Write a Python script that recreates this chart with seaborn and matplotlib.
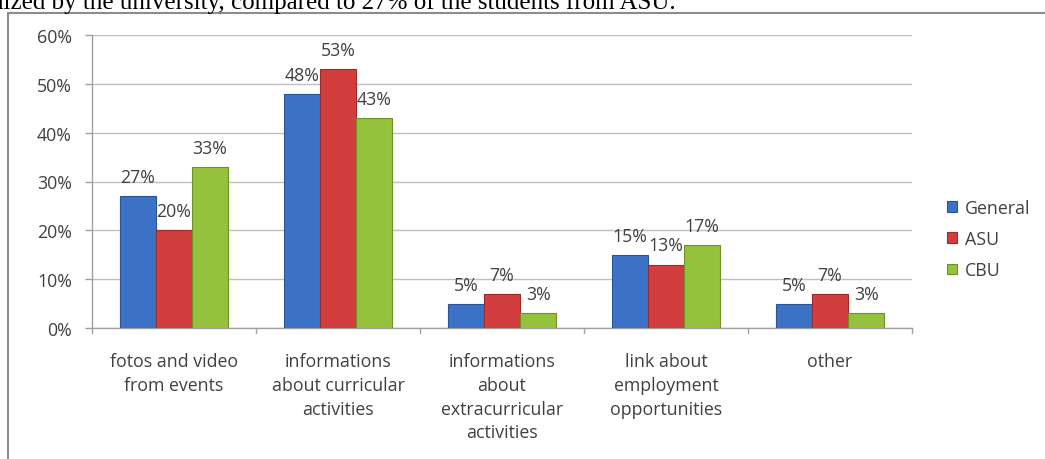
import matplotlib
matplotlib.use("Agg")
import matplotlib.pyplot as plt
import seaborn as sns
import pandas as pd
from matplotlib.patches import Rectangle
from matplotlib.lines import Line2D

categories = ["fotos and video\nfrom events",
              "informations\nabout curricular\nactivities",
              "informations\nabout\nextracurricular\nactivities",
              "link about\nemployment\nopportunities",
              "other"]
series = ["General", "ASU", "CBU"]
general = [27, 48, 5, 15, 5]
asu = [20, 53, 7, 13, 7]
cbu = [33, 43, 3, 17, 3]
yticks = [0, 10, 20, 30, 40, 50, 60]
colors = ["#3C72C6", "#D23E3E", "#94C23C"]
edge_colors = ["#2A5494", "#9E2A2A", "#6E9128"]
top_text = "anized by the university, compared to 27% of the students from ASU."

rows = []
for s, vals in zip(series, [general, asu, cbu]):
    for c, v in zip(categories, vals):
        rows.append({"category": c, "series": s, "value": v})
df = pd.DataFrame(rows)

sns.set_theme(style="white")
plt.rcParams["font.family"] = ["Open Sans", "DejaVu Sans"]

FS = 12.8
W, H = 1045, 460
fig = plt.figure(figsize=(W / 100, H / 100), dpi=100)
ax = fig.add_axes([92 / W, 1 - 329 / H, (912 - 92) / W, (329 - 36) / H])

sns.barplot(data=df, x="category", y="value", hue="series", order=categories,
            hue_order=series, palette=colors, width=0.66, gap=0,
            saturation=1, ax=ax, legend=False, zorder=3)

for cont, ec in zip(ax.containers, edge_colors):
    for p in cont.patches:
        p.set_edgecolor(ec)
        p.set_linewidth(0.8)
    labels = [f"{int(round(v))}%" for v in cont.datavalues]
    for p, lab in zip(cont.patches, labels):
        ax.annotate(lab, (p.get_x() + p.get_width() / 2, p.get_height()),
                    xytext=(0, 13.7), textcoords="offset points",
                    ha="center", va="center", fontsize=FS, color="#404040",
                    zorder=5)

ax.set_ylim(0, 60)
ax.set_xlim(-0.5, len(categories) - 0.5)
ax.set_yticks(yticks)
ax.set_yticklabels([f"{t}%" for t in yticks], fontsize=FS, color="#404040")
ax.yaxis.grid(True, color="#BFBFBF", linewidth=1, zorder=0)
ax.set_axisbelow(True)
ax.set_xlabel("")
ax.set_ylabel("")

ax.set_xticks([i for i in range(len(categories))])
ax.set_xticklabels(categories, fontsize=FS, color="#404040", linespacing=1.4)
ax.tick_params(axis="x", length=0, pad=17.5)
ax.tick_params(axis="y", left=True, length=5, width=1, color="#A0A0A0", pad=9.5)
for x in [i - 0.5 for i in range(len(categories) + 1)]:
    ax.plot([x, x], [0, -1.0], color="#A0A0A0", lw=1, clip_on=False, zorder=4)

for side in ["top", "right"]:
    ax.spines[side].set_visible(False)
for side in ["left", "bottom"]:
    ax.spines[side].set_color("#A0A0A0")
    ax.spines[side].set_linewidth(1)

handles = [Rectangle((0, 0), 1, 1, facecolor=c, edgecolor=e, lw=0.8)
           for c, e in zip(colors, edge_colors)]
fig.legend(handles, series, loc="center left",
           bbox_to_anchor=(947 / W, 1 - 240 / H), frameon=False,
           fontsize=FS, labelcolor="#404040", handlelength=0.55,
           handleheight=0.55, handletextpad=0.45, labelspacing=0.75,
           borderaxespad=0, borderpad=0)

fig.add_artist(Line2D([8 / W, 1.0], [1 - 14 / H, 1 - 14 / H],
                      transform=fig.transFigure, color="#8C8C8C", lw=1.5))
fig.add_artist(Line2D([8 / W, 8 / W], [1 - 14 / H, 0],
                      transform=fig.transFigure, color="#8C8C8C", lw=1.5))

fig.text(-20 / W, 1 - 9 / H, top_text, fontsize=18, color="black",
         family=["Liberation Serif", "DejaVu Serif"], ha="left",
         va="baseline")

fig.savefig("out.png", dpi=100)
